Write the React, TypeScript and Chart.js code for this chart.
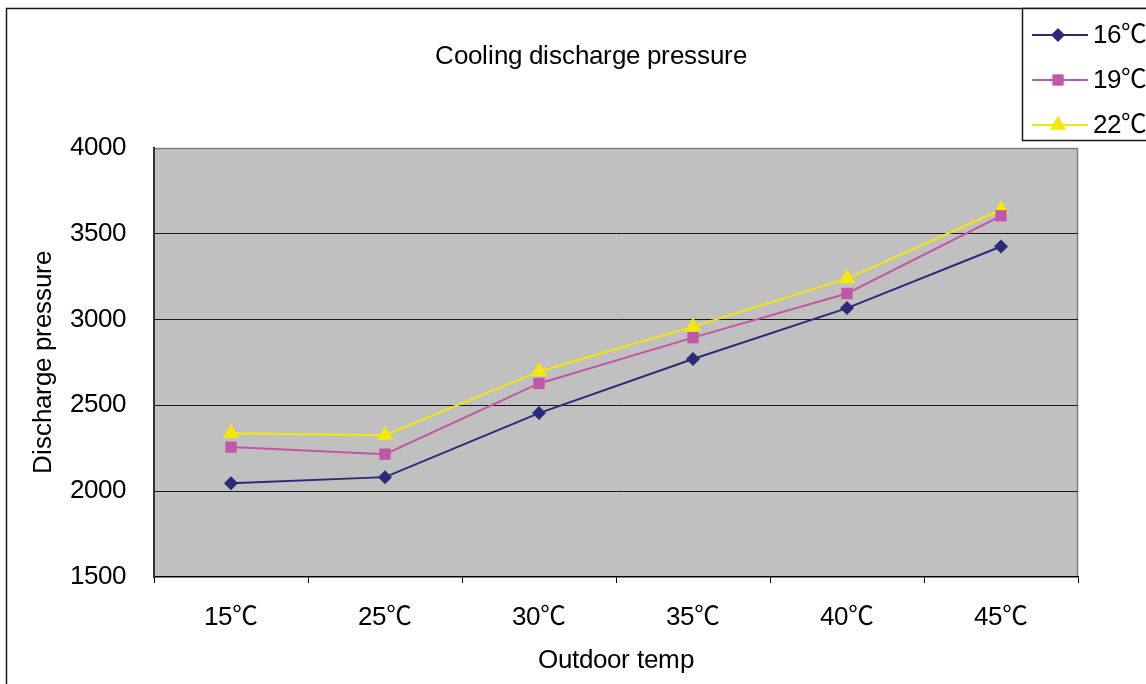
import React, { useEffect, useRef } from "react";
import { Chart, registerables } from "chart.js";

Chart.register(...registerables);

const categories = ["15℃", "25℃", "30℃", "35℃", "40℃", "45℃"];
const seriesLabels = ["16℃", "19℃", "22℃"];
const series16 = [2047, 2082, 2455, 2770, 3067, 3426];
const series19 = [2257, 2216, 2628, 2895, 3152, 3605];
const series22 = [2337, 2326, 2698, 2959, 3239, 3640];
const chartTitle = "Cooling discharge pressure";
const xTitle = "Outdoor temp";
const yTitle = "Discharge pressure";
const yMin = 1500;
const yMax = 4000;
const yStep = 500;

const FAMILY = "'ArialLatin', 'Noto Sans CJK SC', sans-serif";
const FS = 25.6;
const COLORS = ["#2B2A78", "#C257A6", "#F4E80A"];
const STYLES = ["rectRot", "rect", "triangle"];
const RADII = [7, 8, 9.5];

function ensureFontFace() {
  if (document.getElementById("arial-latin-face")) return;
  const st = document.createElement("style");
  st.id = "arial-latin-face";
  st.textContent =
    "@font-face { font-family: 'ArialLatin'; src: local('Liberation Sans'), local('LiberationSans'), local('LiberationSans-Regular'), local('Liberation Sans Regular'); unicode-range: U+0000-00FF; }";
  document.head.appendChild(st);
}

function drawMarker(ctx: CanvasRenderingContext2D, style: string, x: number, y: number, r: number, color: string) {
  ctx.save();
  ctx.fillStyle = color;
  ctx.beginPath();
  if (style === "rectRot") {
    ctx.moveTo(x, y - r);
    ctx.lineTo(x + r, y);
    ctx.lineTo(x, y + r);
    ctx.lineTo(x - r, y);
  } else if (style === "rect") {
    const s = r * Math.SQRT1_2;
    ctx.rect(x - s, y - s, 2 * s, 2 * s);
  } else {
    const h = r;
    ctx.moveTo(x, y - h);
    ctx.lineTo(x + h * Math.cos(Math.PI / 6), y + h * 0.5);
    ctx.lineTo(x - h * Math.cos(Math.PI / 6), y + h * 0.5);
  }
  ctx.closePath();
  ctx.fill();
  ctx.restore();
}

const framePlugin = {
  id: "excelFrame",
  beforeDraw(chart: any) {
    const { ctx, chartArea } = chart;
    ctx.save();
    ctx.fillStyle = "#ffffff";
    ctx.fillRect(0, 0, chart.width, chart.height);
    ctx.fillStyle = "#C0C0C0";
    ctx.fillRect(chartArea.left, chartArea.top, chartArea.right - chartArea.left, chartArea.bottom - chartArea.top);
    ctx.strokeStyle = "#808080";
    ctx.lineWidth = 1.5;
    ctx.beginPath();
    ctx.moveTo(chartArea.left, chartArea.top + 0.5);
    ctx.lineTo(chartArea.right - 0.5, chartArea.top + 0.5);
    ctx.lineTo(chartArea.right - 0.5, chartArea.bottom);
    ctx.stroke();
    ctx.strokeStyle = "#1a1a1a";
    ctx.lineWidth = 1.5;
    ctx.strokeRect(6.5, 8.5, 1200, 800);
    ctx.fillStyle = "#000";
    ctx.font = `${FS}px ${FAMILY}`;
    ctx.textAlign = "center";
    ctx.textBaseline = "middle";
    ctx.fillText(chartTitle, 591, 57);
    ctx.restore();
  },
  afterDraw(chart: any) {
    const { ctx } = chart;
    ctx.save();
    ctx.fillStyle = "#ffffff";
    ctx.fillRect(1022, 8, 130, 132);
    ctx.strokeStyle = "#1a1a1a";
    ctx.lineWidth = 1.5;
    ctx.strokeRect(1022.5, 8.5, 200, 132);
    const rows = [35, 80, 125];
    seriesLabels.forEach((lab, i) => {
      const y = rows[i];
      ctx.strokeStyle = COLORS[i];
      ctx.lineWidth = 2;
      ctx.beginPath();
      ctx.moveTo(1032, y);
      ctx.lineTo(1088, y);
      ctx.stroke();
      drawMarker(ctx, STYLES[i], 1058, y, RADII[i], COLORS[i]);
      ctx.fillStyle = "#000";
      ctx.font = `${FS}px ${FAMILY}`;
      ctx.textAlign = "left";
      ctx.textBaseline = "middle";
      ctx.fillText(lab, 1093, y + 1);
    });
    ctx.restore();
  },
};

export default function App() {
  const ref = useRef<HTMLCanvasElement | null>(null);

  useEffect(() => {
    if (!ref.current) return;
    ensureFontFace();
    const font = { family: FAMILY, size: FS };
    const data = [series16, series19, series22];
    const chart = new Chart(ref.current, {
      type: "line",
      data: {
        labels: categories,
        datasets: data.map((d, i) => ({
          label: seriesLabels[i],
          data: d,
          borderColor: COLORS[i],
          backgroundColor: COLORS[i],
          borderWidth: 2,
          pointStyle: STYLES[i] as any,
          pointRadius: RADII[i],
          pointBorderWidth: 0,
          pointBackgroundColor: COLORS[i],
          tension: 0,
          fill: false,
        })),
      },
      options: {
        animation: false,
        responsive: false,
        devicePixelRatio: 1,
        layout: { padding: { left: 0, right: 68, top: 148, bottom: 0 } },
        plugins: {
          legend: { display: false },
          tooltip: { enabled: false },
          title: { display: false },
        },
        scales: {
          x: {
            type: "category",
            offset: true,
            grid: {
              offset: true,
              drawOnChartArea: false,
              drawTicks: true,
              tickLength: 6,
              color: "#000",
              tickColor: "#000",
            },
            border: { color: "#000", width: 1.5 },
            ticks: { color: "#000", font, padding: 20, maxRotation: 0, autoSkip: false },
            title: {
              display: true,
              text: xTitle,
              color: "#000",
              font,
              padding: { top: 0, bottom: 8 },
            },
            afterFit: (s: any) => {
              s.height = 107;
            },
          },
          y: {
            min: yMin,
            max: yMax,
            grid: {
              color: (c: any) => (c.tick && (c.tick.value === yMin || c.tick.value === yMax) ? "rgba(0,0,0,0)" : "#1a1a1a"),
              drawTicks: false,
              lineWidth: 1,
            },
            border: { color: "#333", width: 2 },
            ticks: {
              stepSize: yStep,
              color: "#000",
              font,
              padding: 28,
              callback: (v: any) => String(v),
            },
            title: {
              display: true,
              text: yTitle,
              color: "#000",
              font,
              padding: { top: 29, bottom: 0 },
            },
            afterFit: (s: any) => {
              s.width = 154;
            },
          },
        },
      },
      plugins: [framePlugin],
    });
    let alive = true;
    const fontsApi: any = (document as any).fonts;
    if (fontsApi && fontsApi.load) {
      Promise.all([
        fontsApi.load(`${FS}px 'ArialLatin'`, "15"),
        fontsApi.load(`${FS}px 'Noto Sans CJK SC'`, "℃"),
      ])
        .catch(() => null)
        .then(() => {
          if (alive) chart.update("none");
        });
    }
    return () => {
      alive = false;
      chart.destroy();
    };
  }, []);

  return (
    <div style={{ position: "absolute", left: 0, top: 0, width: 1146, height: 684 }}>
      <canvas ref={ref} width={1146} height={684} style={{ width: 1146, height: 684, display: "block" }} />
    </div>
  );
}
